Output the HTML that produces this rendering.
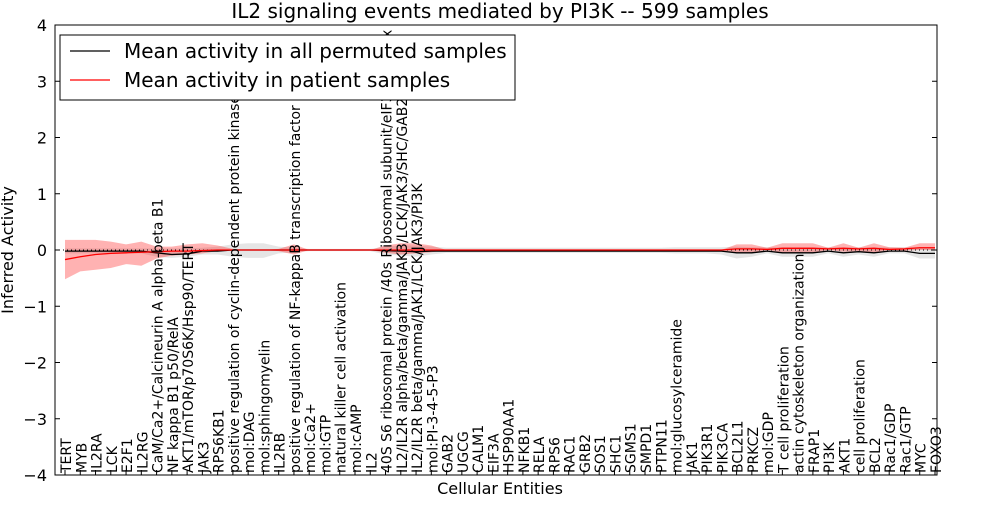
<!DOCTYPE html>
<html><head><meta charset="utf-8"><style>
body{margin:0;background:#fff}
svg{font-family:"DejaVu Sans","Liberation Sans",sans-serif}
</style></head><body>
<svg id="c" width="1000" height="500"></svg>
<script>
const labels=["TERT","MYB","IL2RA","LCK","E2F1","IL2RG","CaM/Ca2+/Calcineurin A alpha-beta B1","NF kappa B1 p50/RelA","AKT1/mTOR/p70S6K/Hsp90/TERT","JAK3","RPS6KB1","positive regulation of cyclin-dependent protein kinase activity","mol:DAG","mol:sphingomyelin","IL2RB","positive regulation of NF-kappaB transcription factor activity","mol:Ca2+","mol:GTP","natural killer cell activation","mol:cAMP","IL2","40S S6 ribosomal protein /40s Ribosomal subunit/eIF3 complex","IL2/IL2R alpha/beta/gamma/JAK3/LCK/JAK3/SHC/GAB2/PI3K","IL2/IL2R beta/gamma/JAK1/LCK/JAK3/PI3K","mol:PI-3-4-5-P3","GAB2","UGCG","CALM1","EIF3A","HSP90AA1","NFKB1","RELA","RPS6","RAC1","GRB2","SOS1","SHC1","SGMS1","SMPD1","PTPN11","mol:glucosylceramide","JAK1","PIK3R1","PIK3CA","BCL2L1","PRKCZ","mol:GDP","T cell proliferation","actin cytoskeleton organization","FRAP1","PI3K","AKT1","cell proliferation","BCL2","Rac1/GDP","Rac1/GTP","MYC","FOXO3"];
const permMean=[-0.02,-0.02,-0.02,-0.02,-0.02,-0.02,-0.05,-0.08,-0.07,-0.02,-0.02,0,0,0,0,0,0,0,0,0,0,-0.01,-0.02,-0.03,-0.02,-0.02,-0.02,-0.02,-0.02,-0.02,-0.02,-0.02,-0.02,-0.02,-0.02,-0.02,-0.02,-0.02,-0.02,-0.02,-0.02,-0.02,-0.02,-0.02,-0.05,-0.05,-0.02,-0.05,-0.05,-0.05,-0.02,-0.05,-0.03,-0.05,-0.02,-0.02,-0.06,-0.06];
const permLo=[-0.06,-0.06,-0.06,-0.06,-0.06,-0.06,-0.12,-0.14,-0.12,-0.08,-0.08,-0.12,-0.14,-0.14,-0.06,-0.04,-0.02,-0.02,-0.02,-0.02,-0.02,-0.08,-0.1,-0.12,-0.08,-0.05,-0.05,-0.05,-0.05,-0.05,-0.05,-0.05,-0.05,-0.05,-0.05,-0.05,-0.05,-0.05,-0.05,-0.05,-0.06,-0.06,-0.06,-0.08,-0.15,-0.12,-0.06,-0.12,-0.12,-0.12,-0.06,-0.12,-0.08,-0.12,-0.06,-0.06,-0.15,-0.15];
const permHi=[0.03,0.03,0.03,0.03,0.03,0.03,0.03,0.03,0.03,0.04,0.06,0.1,0.12,0.12,0.06,0.04,0.02,0.02,0.02,0.02,0.02,0.06,0.08,0.08,0.06,0.04,0.04,0.04,0.04,0.04,0.04,0.04,0.04,0.04,0.04,0.04,0.04,0.04,0.04,0.04,0.05,0.05,0.05,0.05,0.06,0.05,0.05,0.05,0.05,0.05,0.05,0.05,0.05,0.05,0.05,0.05,0.05,0.05];
const patMean=[-0.17,-0.12,-0.08,-0.06,-0.05,-0.04,-0.03,-0.02,-0.02,-0.01,0,0,0,0,0,0,0,0,0,0,0,0,0,0,0,0,0,0,0,0,0,0,0,0,0,0,0,0,0,0,0,0,0,0,0.02,0.02,0.01,0.03,0.03,0.03,0.02,0.03,0.02,0.03,0.01,0.02,0.04,0.04];
const patLo=[-0.52,-0.38,-0.35,-0.32,-0.25,-0.28,-0.15,-0.1,-0.08,-0.06,-0.02,0,0,0,-0.02,-0.08,0,0,0,0,0,-0.05,-0.08,-0.06,-0.04,0,0,0,0,0,0,0,0,0,0,0,0,0,0,0,0,0,0,0,-0.05,-0.05,0,-0.05,-0.05,-0.05,0,-0.03,-0.02,-0.05,0,-0.01,0,0];
const patHi=[0.18,0.18,0.18,0.15,0.1,0.15,0.06,0.06,0.1,0.12,0.08,0.02,0,0,0.02,0.1,0,0,0,0,0,0.08,0.12,0.12,0.08,0,0,0,0,0,0,0,0,0,0,0,0,0,0,0,0,0,0,0,0.1,0.1,0.04,0.12,0.12,0.12,0.04,0.12,0.04,0.12,0.05,0.04,0.12,0.12];
const yTicks=[-4,-3,-2,-1,0,1,2,3,4];
const NS="http://www.w3.org/2000/svg",svg=document.getElementById('c');
const L=55,R=937,T=25,B=475;
const x=i=>65+i*(935-65)/(labels.length-1);
const y=v=>250-v*56.25;
function mk(t,a,p){const e=document.createElementNS(NS,t);for(const k in a)e.setAttribute(k,a[k]);(p||svg).appendChild(e);return e;}
function band(lo,hi,fill,op){let d='M'+lo.map((v,i)=>x(i)+','+y(v)).join('L');for(let i=hi.length-1;i>=0;i--)d+='L'+x(i)+','+y(hi[i]);return mk('path',{d:d+'Z',fill:fill,'fill-opacity':op,stroke:'none'});}
function line(a,col,w){return mk('path',{d:'M'+a.map((v,i)=>x(i)+','+y(v)).join('L'),fill:'none',stroke:col,'stroke-width':w});}
const g1=band(permLo,permHi,'#999',0.25);

const g2=band(patLo,patHi,'#f00',0.3);

const z=mk('line',{x1:L,x2:R,y1:y(0),y2:y(0),stroke:'#000','stroke-dasharray':'1,3','stroke-width':1});

const l1=line(permMean,'#000',1.3);

const l2=line(patMean,'#f00',1.3);

const fr=mk('rect',{x:L,y:T,width:R-L,height:B-T,fill:'none',stroke:'#000','stroke-width':1});

yTicks.forEach(v=>{
 mk('line',{x1:L,x2:L+5,y1:y(v),y2:y(v),stroke:'#000'});mk('line',{x1:R-5,x2:R,y1:y(v),y2:y(v),stroke:'#000'});
 const t=mk('text',{x:L-8,y:y(v)+6,'text-anchor':'end','font-size':16});t.textContent=(v<0?'\u2212':'')+Math.abs(v);
 
});
labels.forEach((s,i)=>{
 mk('line',{x1:x(i),x2:x(i),y1:B,y2:B-5,stroke:'#000'});
 const t=mk('text',{transform:`translate(${x(i)+6},${B-2}) rotate(-90)`,'font-size':14});t.textContent=s;
 
});
const tt=mk('text',{x:500,y:18,'text-anchor':'middle','font-size':20});tt.textContent='IL2 signaling events mediated by PI3K -- 599 samples';

const xt=mk('text',{x:500,y:494,'text-anchor':'middle','font-size':16});xt.textContent='Cellular Entities';

const yt=mk('text',{transform:'translate(13,250) rotate(-90)','text-anchor':'middle','font-size':16});yt.textContent='Inferred Activity';

const lg=mk('g',{});

mk('rect',{x:60,y:35,width:455,height:65,fill:'#fff',stroke:'#000'},lg);
mk('line',{x1:70,x2:110,y1:51,y2:51,stroke:'#000','stroke-width':1.3},lg);
mk('line',{x1:70,x2:110,y1:80,y2:80,stroke:'#f00','stroke-width':1.3},lg);
const a=mk('text',{x:124,y:58,'font-size':20},lg);a.textContent='Mean activity in all permuted samples';

const b=mk('text',{x:124,y:87,'font-size':20},lg);b.textContent='Mean activity in patient samples';

</script>
</body></html>
